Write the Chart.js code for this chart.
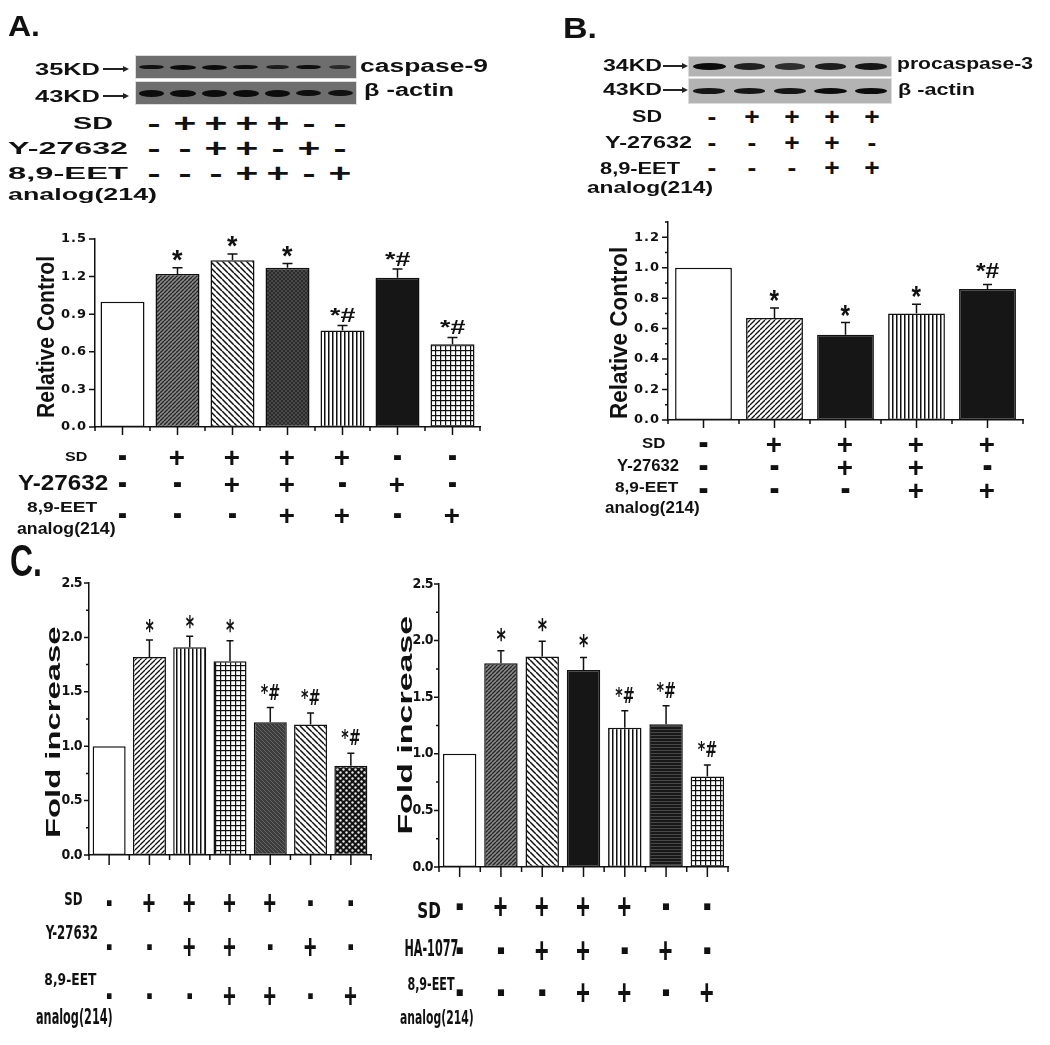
<!DOCTYPE html>
<html lang="en">
<head>
<meta charset="utf-8">
<title>Caspase figure</title>
<script src="https://cdn.jsdelivr.net/npm/chart.js@4.4.1/dist/chart.umd.min.js"></script>
<style>
  html, body { margin:0; padding:0; background:#fff; }
  body { position:relative; width:1050px; height:1045px; overflow:hidden; font-family:'Liberation Sans', Arial, sans-serif; }
  canvas.chart { position:absolute; }
  .t { position:absolute; white-space:nowrap; font-weight:bold; line-height:1; color:#111; transform-origin:0 50%; font-family:'Liberation Sans', Arial, sans-serif; }
  .sg { transform-origin:50% 50%; }
  .strip { position:absolute; box-sizing:border-box; border:1px solid #dcdcdc; display:flex; }
  .lane { flex:1 1 0; display:flex; align-items:center; justify-content:center; }
  .band { border-radius:50%; filter:blur(0.5px); }
  .arr { position:absolute; height:1.4px; background:#222; }
  .arr::after { content:''; position:absolute; right:-2px; top:-2.3px; border-left:6px solid #222; border-top:3px solid transparent; border-bottom:3px solid transparent; }
</style>
</head>
<body>
<canvas id="chartA" class="chart" width="530" height="335" style="left:0px;top:225px;width:530px;height:335px"></canvas>
<canvas id="chartB" class="chart" width="470" height="335" style="left:580px;top:205px;width:470px;height:335px"></canvas>
<canvas id="chartC1" class="chart" width="380" height="475" style="left:0px;top:570px;width:380px;height:475px"></canvas>
<canvas id="chartC2" class="chart" width="400" height="475" style="left:380px;top:570px;width:400px;height:475px"></canvas>
<script>
// ================= DATA =================
// Panel A (caspase-9)
const sdA  = ['-','+','+','+','+','-','-'];
const yA   = ['-','-','+','+','-','+','-'];
const eetA = ['-','-','-','+','+','-','+'];
const valuesA = [1.00, 1.22, 1.33, 1.27, 0.77, 1.19, 0.66];
const errorsA = [0, 0.05, 0.05, 0.035, 0.04, 0.07, 0.055];
const sigA    = ['', '*', '*', '*', '*#', '*#', '*#'];

// Panel B (procaspase-3)
const sdB  = ['-','+','+','+','+'];
const yB   = ['-','-','+','+','-'];
const eetB = ['-','-','-','+','+'];
const valuesB = [1.00, 0.67, 0.56, 0.70, 0.86];
const errorsB = [0, 0.065, 0.08, 0.06, 0.03];
const sigB    = ['', '*', '*', '*', '*#'];

// Panel C left (Y-27632)
const sdC1  = ['-','+','+','+','+','-','-'];
const yC1   = ['-','-','+','+','-','+','-'];
const eetC1 = ['-','-','-','+','+','-','+'];
const valuesC1 = [1.00, 1.82, 1.91, 1.78, 1.22, 1.20, 0.82];
const errorsC1 = [0, 0.155, 0.10, 0.19, 0.135, 0.105, 0.115];
const sigC1    = ['', '*', '*', '*', '*#', '*#', '*#'];

// Panel C right (HA-1077)
const sdC2  = ['-','+','+','+','+','-','-'];
const haC2  = ['-','-','+','+','-','+','-'];
const eetC2 = ['-','-','-','+','+','-','+'];
const valuesC2 = [1.00, 1.80, 1.86, 1.74, 1.23, 1.26, 0.80];
const errorsC2 = [0, 0.11, 0.135, 0.11, 0.15, 0.165, 0.10];
const sigC2    = ['', '*', '*', '*', '*#', '*#', '*#'];

// Western blot band intensities
const blotA_casp9 = [0.9, 1, 1, 0.95, 0.75, 0.95, 0.55];
const blotA_actin = [1, 1, 1, 1, 1, 0.95, 0.9];
const blotB_procasp3 = [1, 0.8, 0.7, 0.85, 0.9];
const blotB_actin = [0.9, 0.9, 0.9, 1, 1];

// ================= STYLES =================
const PAT_A  = ['white','diagDarkF','diagB','darkCross','vert','black','grid'];
const PAT_B  = ['white','diagF','black','vert','black'];
const PAT_C1 = ['white','diagF','vert','grid','darkDiag','diagB','hexDots'];
const PAT_C2 = ['white','diagDarkF','diagB','black','vert','darkHoriz','grid'];

const SANS = "'Liberation Sans', Arial, sans-serif";
const NARROW = "'Liberation Sans Narrow', 'DejaVu Sans Condensed', 'Liberation Sans', Arial, sans-serif";

function makePattern(name) {
  if (name === 'white') return '#ffffff';
  if (name === 'black') return '#161616';
  const c = document.createElement('canvas');
  const g = c.getContext('2d');
  const tile = (s, bg) => { c.width = s; c.height = s; g.fillStyle = bg; g.fillRect(0, 0, s, s); };
  const diag = (s, dir, color, lw) => {
    g.strokeStyle = color; g.lineWidth = lw; g.beginPath();
    for (let k = -1; k <= 1; k++) {
      if (dir === '/') { g.moveTo(k * s, s); g.lineTo(k * s + s, 0); }
      else { g.moveTo(k * s, 0); g.lineTo(k * s + s, s); }
    }
    g.stroke();
  };
  switch (name) {
    case 'diagF': tile(5, '#fff'); diag(5, '/', '#111', 1.3); break;
    case 'diagDarkF': tile(4, '#8a8a8a'); diag(4, '/', '#262626', 1.4); break;
    case 'diagB': tile(6, '#fff'); diag(6, '\\', '#111', 1.5); break;
    case 'darkCross': tile(4, '#2c2c2c'); diag(4, '/', '#555', 0.7); diag(4, '\\', '#555', 0.7); break;
    case 'vert': tile(4, '#fff'); g.fillStyle = '#111'; g.fillRect(0, 0, 1.5, 4); break;
    case 'grid': tile(5, '#fff'); g.fillStyle = '#111'; g.fillRect(0, 0, 5, 1.2); g.fillRect(0, 0, 1.2, 5); break;
    case 'darkDiag': tile(4, '#3c3c3c'); diag(4, '\\', '#6e6e6e', 0.8); break;
    case 'hexDots':
      tile(6, '#111'); g.fillStyle = '#e8e8e8';
      g.beginPath(); g.arc(1.5, 1.5, 1.2, 0, Math.PI * 2); g.fill();
      g.beginPath(); g.arc(4.5, 4.5, 1.2, 0, Math.PI * 2); g.fill();
      break;
    case 'darkHoriz': tile(3, '#181818'); g.fillStyle = '#555'; g.fillRect(0, 0, 3, 0.8); break;
  }
  return g.createPattern(c, 'repeat');
}

// Draw text so that its ink box is placed / scaled precisely
function inkText(ctx, s, x, y, font, o = {}) {
  ctx.save();
  ctx.font = font;
  ctx.textAlign = 'left';
  ctx.textBaseline = 'alphabetic';
  try { ctx.letterSpacing = '0px'; } catch (e) {}
  ctx.fillStyle = o.color || '#111';
  const m = ctx.measureText(s);
  const iw = m.actualBoundingBoxLeft + m.actualBoundingBoxRight;
  const ih = m.actualBoundingBoxAscent + m.actualBoundingBoxDescent;
  const sx = o.w ? o.w / iw : (o.sx || 1);
  const sy = o.h ? o.h / ih : (o.sy || 1);
  ctx.translate(x, y);
  if (o.rot) ctx.rotate(o.rot);
  ctx.scale(sx, sy);
  let dx = m.actualBoundingBoxLeft;
  if (o.align === 'center') dx -= iw / 2;
  else if (o.align === 'right') dx -= iw;
  let dy;
  if (o.valign === 'bottom') dy = -m.actualBoundingBoxDescent;
  else dy = (m.actualBoundingBoxAscent - m.actualBoundingBoxDescent) / 2;
  ctx.fillText(s, dx, dy);
  ctx.restore();
}

// Per-chart decoration settings (keyed by canvas id)
const CFG = {};

const decor = {
  id: 'decor',
  beforeDraw(chart) {
    const o = CFG[chart.canvas.id];
    try { chart.ctx.letterSpacing = o.tickLS || '0px'; } catch (e) {}
  },
  beforeDatasetsDraw(chart) {
    try { chart.ctx.letterSpacing = '0px'; } catch (e) {}
  },
  afterDatasetsDraw(chart) {
    const o = CFG[chart.canvas.id];
    const ctx = chart.ctx, ys = chart.scales.y;
    const ds = chart.data.datasets[0];
    const meta = chart.getDatasetMeta(0);
    ctx.save();
    ctx.strokeStyle = '#111';
    ctx.lineWidth = 1.5;
    meta.data.forEach((bar, i) => {
      const e = o.errors[i];
      const v = ds.data[i];
      if (e > 0) {
        const top = ys.getPixelForValue(v + e);
        ctx.beginPath();
        ctx.moveTo(bar.x, bar.y); ctx.lineTo(bar.x, top);
        ctx.moveTo(bar.x - o.cap, top); ctx.lineTo(bar.x + o.cap, top);
        ctx.stroke();
      }
      const s = o.sig[i];
      if (s) {
        const top = ys.getPixelForValue(v + e);
        const b = o.sigBox[s];
        inkText(ctx, s, bar.x, top - o.sigGap[s], o.sigFont, { align: 'center', valign: 'bottom', w: b[0], h: b[1] });
      }
    });
    ctx.restore();
  },
  afterDraw(chart) {
    const o = CFG[chart.canvas.id];
    const ctx = chart.ctx, xs = chart.scales.x, ys = chart.scales.y, ca = chart.chartArea;
    ctx.save();
    ctx.strokeStyle = '#111';
    ctx.lineWidth = 1.5;
    ctx.beginPath();
    ys.ticks.forEach(t => {
      const p = ys.getPixelForValue(t.value);
      ctx.moveTo(ca.left, p); ctx.lineTo(ca.left - o.yMajor, p);
    });
    if (o.yMinor) {
      const st = o.step;
      for (let v = st / 2; v <= ys.max + 1e-9; v += st) {
        const p = ys.getPixelForValue(v);
        ctx.moveTo(ca.left, p); ctx.lineTo(ca.left - o.yMinor, p);
      }
    }
    const n = chart.data.labels.length;
    for (let i = 0; i < n; i++) {
      const p = xs.getPixelForValue(i);
      ctx.moveTo(p, ca.bottom); ctx.lineTo(p, ca.bottom + o.xMajor);
    }
    for (let i = 0; i <= n; i++) {
      const p = xs.getPixelForValue(i - 0.5);
      ctx.moveTo(p, ca.bottom); ctx.lineTo(p, ca.bottom + o.xMinor);
    }
    ctx.stroke();
    ctx.restore();

    // y axis title
    const T = o.title;
    inkText(ctx, T.t, T.cx - o.ox, T.cy - o.oy, T.font, { align: 'center', rot: -Math.PI / 2, w: T.len, h: T.th });

    // treatment table under the axis
    const tb = o.table;
    tb.labels.forEach(L => {
      inkText(ctx, L.t, L.x - o.ox, L.cy - o.oy, tb.font, { align: 'left', w: L.w, h: L.h });
    });
    tb.rows.forEach(r => {
      r.signs.forEach((s, i) => {
        const b = tb.signBox[s];
        inkText(ctx, s, xs.getPixelForValue(i), r.cy - o.oy, tb.signFont, { align: 'center', w: b[0], h: b[1] });
      });
    });
  }
};

function makeChart(id, c) {
  CFG[id] = c;
  const labels = c.rows[0].map((s, i) => c.rows.map(r => r[i]).join(' '));
  return new Chart(document.getElementById(id), {
    type: 'bar',
    data: {
      labels: labels,
      datasets: [{
        data: c.values,
        backgroundColor: c.patterns.map(makePattern),
        borderColor: '#111',
        borderWidth: 1.5,
        borderSkipped: false,
        barPercentage: c.barPct,
        categoryPercentage: 1
      }]
    },
    options: {
      responsive: false,
      animation: false,
      devicePixelRatio: 1,
      layout: { padding: { top: c.pt, right: c.pr, left: 0, bottom: 0 } },
      plugins: { legend: { display: false }, tooltip: { enabled: false }, title: { display: false } },
      scales: {
        x: {
          type: 'category',
          offset: true,
          grid: { display: false, drawTicks: false },
          border: { display: true, color: '#111', width: 1.5 },
          ticks: { display: false },
          afterFit: s => { s.height = c.xh; }
        },
        y: {
          min: 0, max: c.max,
          grid: { display: false, drawTicks: true, tickLength: c.yMajor },
          border: { display: true, color: '#111', width: 1.5 },
          ticks: {
            stepSize: c.step, includeBounds: false, padding: c.tickPad, color: '#111',
            font: c.tickFont,
            callback: v => Number(v).toFixed(1)
          },
          afterFit: s => { s.width = c.yw; }
        }
      }
    },
    plugins: [decor]
  });
}

// ---------- Panel A chart ----------
makeChart('chartA', {
  ox: 0, oy: 225,
  rows: [sdA, yA, eetA],
  values: valuesA, errors: errorsA, sig: sigA, patterns: PAT_A,
  barPct: 0.8, max: 1.5, step: 0.3,
  yw: 95, pt: 14, pr: 50, xh: 133,
  tickFont: { family: "'DejaVu Sans', sans-serif", weight: 'bold', size: 13 }, tickLS: '1px', tickPad: 2,
  yMajor: 6, yMinor: 0, xMajor: 8, xMinor: 4, cap: 5,
  sigFont: 'bold 22px ' + SANS, sigBox: { '*': [11, 11], '*#': [25, 14] }, sigGap: { '*': 6, '*#': 3 },
  title: { t: 'Relative Control', cx: 45, cy: 337, len: 160, th: 17, font: 'bold 22px ' + SANS },
  table: {
    font: 'bold 20px ' + SANS, signFont: 'bold 24px ' + SANS,
    signBox: { '+': [15, 15], '-': [9, 5] },
    rows: [{ signs: sdA, cy: 457 }, { signs: yA, cy: 484 }, { signs: eetA, cy: 515 }],
    labels: [
      { t: 'SD', x: 65, cy: 456, w: 22, h: 9 },
      { t: 'Y-27632', x: 18, cy: 482, w: 90, h: 16 },
      { t: '8,9-EET', x: 27, cy: 508, w: 70, h: 13 },
      { t: 'analog(214)', x: 17, cy: 530, w: 98, h: 15 }
    ]
  }
});

// ---------- Panel B chart ----------
makeChart('chartB', {
  ox: 580, oy: 205,
  rows: [sdB, yB, eetB],
  values: valuesB, errors: errorsB, sig: sigB, patterns: PAT_B,
  barPct: 0.8, max: 1.3, step: 0.2,
  yw: 88, pt: 17, pr: 27, xh: 120,
  tickFont: { family: "'DejaVu Sans', sans-serif", weight: 'bold', size: 13 }, tickLS: '1px', tickPad: 2,
  yMajor: 6, yMinor: 3, xMajor: 8, xMinor: 4, cap: 4.5,
  sigFont: 'bold 22px ' + SANS, sigBox: { '*': [10, 12], '*#': [23, 15] }, sigGap: { '*': 6, '*#': 6 },
  title: { t: 'Relative Control', cx: 618, cy: 333, len: 170, th: 17, font: 'bold 22px ' + SANS },
  table: {
    font: 'bold 20px ' + SANS, signFont: 'bold 24px ' + SANS,
    signBox: { '+': [15, 15], '-': [10, 5] },
    rows: [{ signs: sdB, cy: 444 }, { signs: yB, cy: 467 }, { signs: eetB, cy: 490 }],
    labels: [
      { t: 'SD', x: 642, cy: 443, w: 23, h: 10 },
      { t: 'Y-27632', x: 617, cy: 465, w: 62, h: 11 },
      { t: '8,9-EET', x: 615, cy: 488, w: 63, h: 13 },
      { t: 'analog(214)', x: 605, cy: 509, w: 94, h: 15 }
    ]
  }
});

// ---------- Panel C left ----------
makeChart('chartC1', {
  ox: 0, oy: 570,
  rows: [sdC1, yC1, eetC1],
  values: valuesC1, errors: errorsC1, sig: sigC1, patterns: PAT_C1,
  barPct: 0.82, max: 2.5, step: 0.5,
  yw: 89, pt: 13, pr: 9, xh: 190,
  tickFont: { family: NARROW, weight: 'bold', size: 14 }, tickLS: '-0.6px', tickPad: 2,
  yMajor: 5, yMinor: 3, xMajor: 10, xMinor: 5, cap: 3.5,
  sigFont: 'bold 22px ' + NARROW, sigBox: { '*': [8, 13], '*#': [19, 15] }, sigGap: { '*': 8, '*#': 8 },
  title: { t: 'Fold increase', cx: 52, cy: 732, len: 209, th: 15, font: 'bold 21px ' + SANS },
  table: {
    font: 'bold 20px ' + NARROW, signFont: 'bold 24px ' + SANS,
    signBox: { '+': [12, 19], '-': [6, 6] },
    rows: [{ signs: sdC1, cy: 903 }, { signs: yC1, cy: 947 }, { signs: eetC1, cy: 996 }],
    labels: [
      { t: 'SD', x: 65, cy: 899, w: 17, h: 12 },
      { t: 'Y-27632', x: 45, cy: 932, w: 52, h: 13 },
      { t: '8,9-EET', x: 45, cy: 980, w: 52, h: 14 },
      { t: 'analog(214)', x: 36, cy: 1018, w: 76, h: 20 }
    ]
  }
});

// ---------- Panel C right ----------
makeChart('chartC2', {
  ox: 380, oy: 570,
  rows: [sdC2, haC2, eetC2],
  values: valuesC2, errors: errorsC2, sig: sigC2, patterns: PAT_C2,
  barPct: 0.81, max: 2.5, step: 0.5,
  yw: 59, pt: 14, pr: 52, xh: 178,
  tickFont: { family: NARROW, weight: 'bold', size: 14 }, tickLS: '-0.6px', tickPad: 1,
  yMajor: 5, yMinor: 3, xMajor: 10, xMinor: 5, cap: 3.5,
  sigFont: 'bold 22px ' + NARROW, sigBox: { '*': [9, 13], '*#': [19, 15] }, sigGap: { '*': 10, '*#': 8 },
  title: { t: 'Fold increase', cx: 404, cy: 725, len: 216, th: 15, font: 'bold 21px ' + SANS },
  table: {
    font: 'bold 20px ' + NARROW, signFont: 'bold 24px ' + SANS,
    signBox: { '+': [13, 20], '-': [8, 7] },
    rows: [{ signs: sdC2, cy: 906 }, { signs: haC2, cy: 950 }, { signs: eetC2, cy: 992 }],
    labels: [
      { t: 'SD', x: 418, cy: 910, w: 22, h: 15 },
      { t: 'HA-1077', x: 405, cy: 948, w: 53, h: 16 },
      { t: '8,9-EET', x: 408, cy: 985, w: 47, h: 15 },
      { t: 'analog(214)', x: 400, cy: 1019, w: 73, h: 18 }
    ]
  }
});

// ================= HTML parts: panel letters, blots, blot headers =================
function htext(s, left, cy, size, w) {
  const el = document.createElement('div');
  el.className = 't';
  el.textContent = s;
  el.style.fontSize = size + 'px';
  el.style.left = left + 'px';
  el.style.top = (cy - size / 2) + 'px';
  document.body.appendChild(el);
  if (w) {
    const nat = el.getBoundingClientRect().width;
    el.style.transform = 'scaleX(' + (w / nat).toFixed(3) + ')';
  }
  return el;
}
function hsign(s, cx, cy, size, sx) {
  const el = document.createElement('div');
  el.className = 't sg';
  el.textContent = s;
  el.style.fontSize = size + 'px';
  el.style.left = cx + 'px';
  el.style.top = (cy - size / 2) + 'px';
  el.style.transform = 'translateX(-50%) scaleX(' + sx + ')';
  document.body.appendChild(el);
}
function hsignRow(arr, left, width, cy, size, sx) {
  const step = width / arr.length;
  arr.forEach((s, i) => hsign(s, left + step * (i + 0.5), cy, size, sx));
}
function arrow(x1, x2, y) {
  const a = document.createElement('div');
  a.className = 'arr';
  a.style.left = x1 + 'px';
  a.style.width = (x2 - x1) + 'px';
  a.style.top = (y - 0.7) + 'px';
  document.body.appendChild(a);
}
function strip(left, top, w, h, bg, intens, frac, bandH) {
  const s = document.createElement('div');
  s.className = 'strip';
  Object.assign(s.style, { left: left + 'px', top: top + 'px', width: w + 'px', height: h + 'px', background: bg });
  const laneW = w / intens.length;
  intens.forEach(v => {
    const lane = document.createElement('div');
    lane.className = 'lane';
    const b = document.createElement('div');
    b.className = 'band';
    b.style.width = (laneW * frac * (0.7 + 0.3 * v)) + 'px';
    b.style.height = (bandH * (0.6 + 0.4 * v)) + 'px';
    b.style.background = 'rgba(12,12,12,' + (0.35 + 0.65 * v).toFixed(2) + ')';
    lane.appendChild(b);
    s.appendChild(lane);
  });
  document.body.appendChild(s);
}

// Panel A header
htext('A.', 8, 26, 30, 32);
strip(135, 55, 222, 24, '#6e6e6e', blotA_casp9, 0.8, 5);
strip(135, 81, 222, 24, '#6e6e6e', blotA_actin, 0.8, 7);
htext('35KD', 35, 69, 17, 65); arrow(103, 127, 69);
htext('43KD', 35, 96, 17, 65); arrow(103, 127, 96);
htext('caspase-9', 360, 66, 18, 128);
htext('\u03B2 -actin', 364, 90, 18, 90);
htext('SD', 73, 123, 17, 40);
htext('Y-27632', 8, 148, 17, 120);
htext('8,9-EET', 8, 173, 17, 120);
htext('analog(214)', 8, 194, 17, 149);
hsignRow(sdA, 139, 216, 123, 26, 1.5);
hsignRow(yA, 139, 216, 148, 26, 1.5);
hsignRow(eetA, 139, 216, 173, 26, 1.5);

// Panel B header
htext('B.', 563, 28, 30, 34);
strip(688, 56, 204, 21, '#b3b3b3', blotB_procasp3, 0.8, 7);
strip(688, 78, 204, 26, '#b3b3b3', blotB_actin, 0.8, 6);
htext('34KD', 603, 66, 16, 59); arrow(663, 686, 66);
htext('43KD', 603, 90, 16, 59); arrow(663, 686, 90);
htext('procaspase-3', 897, 63, 17, 136);
htext('\u03B2 -actin', 898, 89, 17, 77);
htext('SD', 632, 117, 16, 30);
htext('Y-27632', 605, 143, 16, 87);
htext('8,9-EET', 600, 169, 16, 80);
htext('analog(214)', 587, 188, 16, 126);
hsignRow(sdB, 692, 200, 117, 24, 1.1);
hsignRow(yB, 692, 200, 143, 24, 1.1);
hsignRow(eetB, 692, 200, 168, 24, 1.1);

// Panel C letter
htext('C.', 10, 561, 44, 32);
</script>
</body>
</html>
